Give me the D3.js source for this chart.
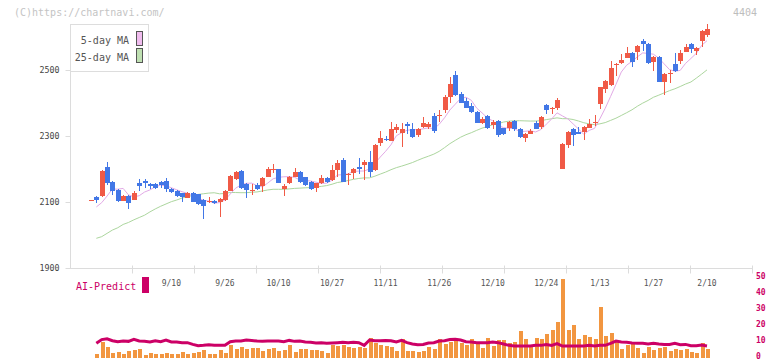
<!DOCTYPE html>
<html><head><meta charset="utf-8">
<script src="https://cdn.jsdelivr.net/npm/d3@7/dist/d3.min.js"></script>
<style>body{margin:0;background:#fff}svg{display:block}text{font-family:"DejaVu Sans Mono",monospace}</style>
</head><body><svg id="c" width="772" height="361"></svg>
<script>
const openP=[2105,2114,2119,2207,2161,2136,2104,2118,2106,2158,2164,2155,2155,2161,2163,2139,2134,2126,2113,2128,2123,2106,2100,2103,2101,2106,2134,2171,2195,2154,2135,2153,2147,2177,2199,2199,2140,2157,2177,2191,2175,2162,2143,2157,2174,2167,2197,2227,2184,2189,2207,2212,2221,2197,2280,2292,2286,2318,2310,2335,2320,2304,2328,2326,2361,2363,2379,2417,2485,2427,2406,2391,2373,2338,2362,2333,2345,2323,2323,2345,2321,2295,2307,2340,2328,2394,2382,2384,2201,2273,2321,2311,2313,2325,2340,2398,2442,2455,2516,2520,2537,2552,2556,2589,2579,2525,2539,2465,2489,2518,2528,2556,2579,2559,2589,2606];
const highP=[2107,2118,2197,2221,2165,2139,2120,2120,2133,2170,2169,2157,2159,2164,2172,2142,2137,2128,2130,2130,2125,2108,2114,2106,2112,2136,2181,2195,2197,2159,2154,2157,2175,2205,2215,2201,2155,2179,2202,2193,2177,2164,2159,2181,2176,2211,2227,2232,2189,2203,2233,2227,2256,2275,2315,2300,2342,2336,2338,2342,2340,2323,2357,2342,2371,2379,2423,2478,2497,2433,2416,2401,2375,2359,2365,2350,2350,2325,2345,2348,2325,2310,2322,2346,2361,2397,2387,2415,2278,2314,2323,2327,2329,2351,2364,2450,2470,2526,2520,2548,2571,2554,2577,2594,2581,2542,2541,2492,2500,2553,2560,2579,2581,2571,2620,2639];
const lowP=[2105,2098,2114,2153,2121,2100,2102,2080,2105,2134,2143,2138,2138,2141,2131,2126,2116,2101,2111,2099,2092,2049,2096,2093,2056,2104,2132,2168,2140,2113,2121,2137,2129,2175,2187,2157,2119,2155,2175,2157,2150,2136,2129,2155,2159,2165,2177,2160,2153,2169,2185,2167,2177,2195,2270,2284,2284,2308,2268,2306,2294,2298,2323,2320,2308,2343,2371,2401,2421,2399,2384,2369,2338,2336,2320,2320,2298,2303,2315,2315,2295,2283,2305,2320,2322,2366,2366,2379,2199,2265,2271,2305,2288,2323,2330,2383,2431,2452,2483,2518,2535,2510,2530,2559,2517,2498,2463,2424,2462,2495,2517,2554,2551,2545,2571,2601];
const closeP=[2107,2106,2194,2157,2134,2103,2118,2096,2128,2150,2159,2150,2143,2153,2140,2130,2119,2114,2128,2101,2094,2089,2102,2096,2110,2134,2179,2191,2143,2136,2137,2140,2173,2201,2201,2159,2148,2175,2191,2160,2153,2139,2157,2174,2162,2197,2219,2162,2186,2200,2201,2221,2192,2273,2294,2288,2320,2328,2320,2331,2297,2320,2340,2336,2316,2365,2419,2458,2424,2401,2386,2372,2340,2352,2323,2343,2303,2306,2341,2320,2298,2306,2315,2322,2357,2379,2384,2409,2276,2312,2303,2307,2327,2336,2342,2448,2467,2506,2518,2530,2552,2525,2574,2578,2522,2540,2465,2488,2491,2497,2553,2571,2563,2568,2618,2624];
const volume=[null,2.5,10.2,6.9,3.1,3.75,2.5,4.6,5.2,5.6,1.9,3.1,2.3,2.7,3.1,2.7,2.7,3.75,2.3,3.1,3.9,5,2.5,2.5,5,3.1,7.9,5.6,6.9,5.4,6,6.2,4.6,5.6,6.2,4.6,5.2,8.1,3.75,5.6,5.6,5,5,4.4,3.1,8.1,7.5,7.9,7.1,6.2,7.1,6,12.5,9.6,7.9,7.5,6.7,4.6,11.9,4.4,4.4,3.5,4.4,6.7,5.6,11.7,8.75,10.2,11.7,9.2,7.9,12,9.2,6.2,12.5,7.5,11.25,11,9.2,10,16.9,12,7.5,12.5,12,15.2,17.7,22.7,49.6,17.7,20.8,12,14.4,13.1,12,31.9,13.75,15.6,10.6,5.8,8.1,9.2,6.2,3.1,6.9,5.2,6.2,6.9,4.6,5.6,5.2,5.8,3.75,3.1,9.4,5.8];
const aiPredict=[null,9.2,11.5,12,10.8,10.2,10.6,10.4,11.7,10.6,10.4,10,10.8,10.2,11.2,10,10,9.6,9.6,8.5,7.7,7.9,8.3,7.9,7.9,7.9,10.2,10.6,10.6,11.25,11,10.6,10.4,10.6,10.6,10.6,10.2,11,10.4,10.6,10,9.8,9.4,9.6,9.2,9.4,9.6,9.8,9.6,9.8,9.6,7.9,11.25,10.8,10.8,11,10.8,10,11,9.6,8.75,8.3,8.5,9.4,9.6,10.6,10.8,11.5,11.7,11.25,10.2,10,9.6,9.6,9.6,10,9.6,8.75,7.9,7.5,7.5,7.5,7.5,7.9,7.9,8.5,7.9,9,7.5,7.5,7.5,7.5,7.5,7.9,7.5,7.9,7.9,9.2,10.6,10,9.8,9.4,9.2,9.2,8.75,9.2,8.75,8.5,8.5,9.2,8.3,8.5,7.7,7.7,8.1,7.5];
const ma5Lead=[null,2085,2098,2118];
const ma25Lead=[null,1990,1995,2005,2015,2022,2032,2038,2046,2053,2060,2070,2079,2087,2094,2101,2106,2112,2116,2120,2123,2125,2127,2128];
const tickIdx=[15,25,35,45,55,65,75,85,95,105,115];
const tickLabels=["9/10","9/26","10/10","10/27","11/11","11/26","12/10","12/24","1/13","1/27","2/10"];
const priceTicks=[1900,2100,2300,2500];
const volTicks=[0,10,20,30,40,50];
const seriesNames=["5-day MA","25-day MA"];

const n=closeP.length;
const movAvg=(k,lead)=>closeP.map((c,i)=>i<k-1?lead[i]:d3.mean(closeP.slice(i-k+1,i+1)));
const ma5=movAvg(5,ma5Lead), ma25=movAvg(25,ma25Lead);

const svg=d3.select("#c");
const x=d3.scaleLinear().domain([0,n-1]).range([91,707]);
const y=d3.scaleLinear().domain([1900,2500]).range([268,70]);
const v=d3.scaleLinear().domain([0,50]).range([358,278]);
const grid=d3.scaleLinear().domain([0,11]).range([70,752]);

// header texts
svg.append("text").attr("x",14).attr("y",16).attr("font-size",10).attr("fill","#c4c4c4").text("(C)https://chartnavi.com/");
svg.append("text").attr("x",757).attr("y",16).attr("text-anchor","end").attr("font-size",10).attr("fill","#bdbdbd").text("4404");

// bottom axis
const gx=svg.append("g").attr("transform","translate(0,268.5)")
  .call(d3.axisBottom(grid).tickValues(d3.range(1,12)).tickSize(5).tickFormat(""));
gx.select(".domain").remove();
gx.selectAll(".tick line").attr("y1",-3).attr("y2",5).attr("stroke","#dcdcdc");
svg.append("line").attr("x1",70).attr("x2",752).attr("y1",268.5).attr("y2",268.5).attr("stroke","#dcdcdc");

// left axis
const gy=svg.append("g").attr("transform","translate(70.5,0)")
  .call(d3.axisLeft(y).tickValues(priceTicks).tickSize(5).tickPadding(6).tickFormat(d3.format("d")));
gy.select(".domain").remove();
gy.selectAll(".tick line").attr("stroke","#dcdcdc");
gy.selectAll(".tick text").attr("font-size",8.3).attr("fill","#444").attr("font-family","DejaVu Sans Mono");
svg.append("line").attr("x1",70.5).attr("x2",70.5).attr("y1",24).attr("y2",268).attr("stroke","#dcdcdc");

// x labels
svg.append("g").selectAll("text").data(tickIdx).join("text")
  .attr("x",d=>x(d)).attr("y",286).attr("text-anchor","middle").attr("font-size",8).attr("fill","#555")
  .text((d,i)=>tickLabels[i]);

// MA lines
const lineGen=d3.line().defined(d=>d[1]!=null).x(d=>x(d[0])).y(d=>y(d[1]));
svg.append("path").attr("d",lineGen(ma25.map((d,i)=>[i,d]))).attr("fill","none").attr("stroke","#acd69e").attr("stroke-width",1);
svg.append("path").attr("d",lineGen(ma5.map((d,i)=>[i,d]))).attr("fill","none").attr("stroke","#e2aae6").attr("stroke-width",1);

// candles
const cg=svg.append("g").attr("shape-rendering","crispEdges");
const idx=d3.range(n);
const col=i=>closeP[i]>=openP[i]?"#f05a46":"#4277e6";
cg.selectAll("line.w").data(idx).join("line").attr("class","w")
  .attr("x1",i=>Math.round(x(i))+0.5).attr("x2",i=>Math.round(x(i))+0.5)
  .attr("y1",i=>y(highP[i])).attr("y2",i=>y(lowP[i])).attr("stroke",col);
cg.selectAll("rect.b").data(idx).join("rect").attr("class","b")
  .attr("x",i=>Math.round(x(i))-2).attr("width",5)
  .attr("y",i=>y(Math.max(openP[i],closeP[i])))
  .attr("height",i=>Math.max(1,Math.abs(y(openP[i])-y(closeP[i]))))
  .attr("fill",col);

// legend
svg.append("rect").attr("x",70.5).attr("y",24.5).attr("width",78).attr("height",47).attr("fill","#fff").attr("stroke","#dddddd");
const legCols=["#f0bcee","#bfe0b2"];
seriesNames.forEach((s,k)=>{
  svg.append("text").attr("x",129).attr("y",44+k*17).attr("text-anchor","end").attr("font-size",10).attr("fill","#555").text(s);
  svg.append("rect").attr("x",136.5).attr("y",31.5+k*17).attr("width",6).attr("height",14).attr("fill",legCols[k]).attr("stroke","#555");
});

// volume
svg.append("g").attr("shape-rendering","crispEdges").selectAll("rect").data(idx.filter(i=>volume[i]!=null)).join("rect")
  .attr("x",i=>Math.round(x(i))-1.5).attr("width",4)
  .attr("y",i=>v(volume[i])).attr("height",i=>v(0)-v(volume[i])).attr("fill","#f29640");

// AI line
svg.append("path").attr("d",d3.line().defined(d=>d[1]!=null).x(d=>x(d[0])).y(d=>v(d[1]))(aiPredict.map((d,i)=>[i,d])))
  .attr("fill","none").attr("stroke","#cc0066").attr("stroke-width",3);

// right axis labels
svg.append("g").selectAll("text").data(volTicks).join("text")
  .attr("x",756).attr("y",d=>v(d)-1.5).attr("dy","0.3em").attr("font-size",8).attr("font-weight","bold").attr("fill","#cc0066").text(d=>d);

// AI-Predict label
svg.append("text").attr("x",76).attr("y",290).attr("font-size",10).attr("fill","#cc0066").text("AI-Predict");
svg.append("rect").attr("x",142).attr("y",277).attr("width",7).attr("height",16).attr("fill","#cc0066");
</script></body></html>
